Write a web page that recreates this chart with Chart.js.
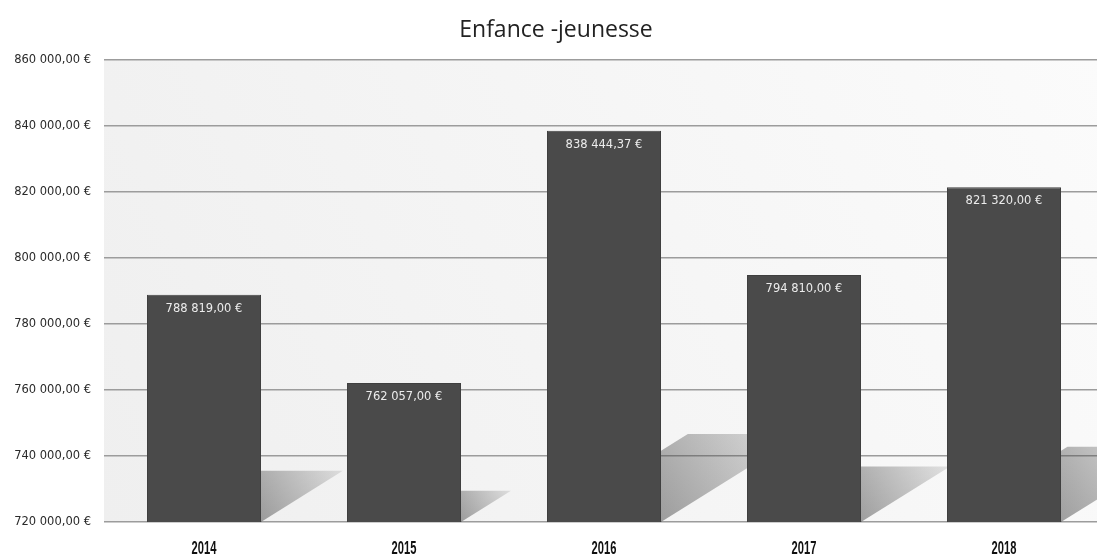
<!DOCTYPE html>
<html lang="fr">
<head>
<meta charset="utf-8">
<title>Enfance -jeunesse</title>
<script src="https://cdn.jsdelivr.net/npm/chart.js@4/dist/chart.umd.min.js"></script>
<style>
    html, body { margin: 0; padding: 0; background: #fff; overflow: hidden; }
    #wrap { position: relative; width: 1118px; height: 559px; }
</style>
</head>
<body>
<div id="wrap"><canvas id="budget-chart"></canvas></div>
<script>
const annees = ['2014', '2015', '2016', '2017', '2018'];
const montants = [788819.00, 762057.00, 838444.37, 794810.00, 821320.00];
const axeMin = 720000;
const axeMax = 860000;
const axePas = 20000;

// Format "860 000,00 €"
const formatEuro = (v) => {
    const [ent, dec] = Number(v).toFixed(2).split('.');
    return ent.replace(/\B(?=(\d{3})+(?!\d))/g, ' ') + ',' + dec + ' €';
};

// Fond légèrement grisé de la zone de tracé
const fondPlugin = {
    id: 'fond',
    beforeDraw(chart) {
        const { ctx, chartArea: a } = chart;
        const g = ctx.createLinearGradient(a.left, a.bottom, a.right, a.top);
        g.addColorStop(0, '#efefef');
        g.addColorStop(1, '#fbfbfb');
        ctx.save();
        ctx.fillStyle = g;
        ctx.fillRect(a.left, a.top, a.right - a.left, a.bottom - a.top);
        ctx.restore();
    }
};

// Ombres portées derrière les barres
const ombrePlugin = {
    id: 'ombre',
    beforeDatasetsDraw(chart) {
        const { ctx, chartArea: a } = chart;
        const meta = chart.getDatasetMeta(0);
        const base = chart.scales.y.getPixelForValue(axeMin);
        ctx.save();
        ctx.beginPath();
        ctx.rect(a.left, a.top, a.right - a.left, a.bottom - a.top);
        ctx.clip();
        meta.data.forEach(bar => {
            const L = bar.x - bar.width / 2, R = bar.x + bar.width / 2;
            const dy = (base - bar.y) * 0.225;
            const dx = dy * 1.6;
            const g = ctx.createLinearGradient(R, base, R + dx, base - dy);
            g.addColorStop(0, 'rgba(70,70,70,0.5)');
            g.addColorStop(1, 'rgba(70,70,70,0.12)');
            ctx.fillStyle = g;
            ctx.beginPath();
            ctx.moveTo(L, base);
            ctx.lineTo(R, base);
            ctx.lineTo(R + dx, base - dy);
            ctx.lineTo(L + dx, base - dy);
            ctx.closePath();
            ctx.fill();
        });
        ctx.restore();
    }
};

// Étiquettes de valeur dans le haut des barres + années (police étroite)
const etiquettePlugin = {
    id: 'etiquettes',
    afterDatasetsDraw(chart) {
        const { ctx } = chart;
        const meta = chart.getDatasetMeta(0);
        ctx.save();
        ctx.font = '11.5px "DejaVu Sans", sans-serif';
        ctx.fillStyle = '#ececec';
        ctx.textAlign = 'center';
        ctx.textBaseline = 'middle';
        meta.data.forEach((bar, i) => {
            ctx.fillText(formatEuro(montants[i]), bar.x, bar.y + 14);
        });
        ctx.restore();
    },
    afterDraw(chart) {
        const { ctx } = chart;
        const xs = chart.scales.x;
        ctx.save();
        ctx.font = 'bold 18px "Liberation Sans", Arial, sans-serif';
        ctx.fillStyle = '#111';
        ctx.textAlign = 'center';
        ctx.textBaseline = 'middle';
        annees.forEach((an, i) => {
            const px = xs.getPixelForValue(i);
            ctx.save();
            ctx.translate(px, xs.top + 27);
            ctx.scale(0.62, 1);
            ctx.fillText(an, 0, 0);
            ctx.restore();
        });
        ctx.restore();
    }
};

new Chart(document.getElementById('budget-chart'), {
    type: 'bar',
    data: {
        labels: annees,
        datasets: [{
            data: montants,
            backgroundColor: '#4a4a4a',
            borderColor: '#3f3f3f',
            borderWidth: 1,
            categoryPercentage: 1.0,
            barPercentage: 0.57
        }]
    },
    options: {
        responsive: true,
        maintainAspectRatio: false,
        animation: false,
        layout: { padding: { left: 8, right: 14, top: 0, bottom: 0 } },
        plugins: {
            legend: { display: false },
            tooltip: { enabled: false },
            title: {
                display: true,
                text: 'Enfance -jeunesse',
                color: '#222',
                font: { family: '"Open Sans", sans-serif', size: 23, weight: 'normal' },
                padding: { top: 17, bottom: 15 }
            }
        },
        scales: {
            x: {
                afterFit(scale) { scale.height = 37; },
                grid: { display: false },
                border: { display: false },
                ticks: { display: false }
            },
            y: {
                min: axeMin,
                max: axeMax,
                afterFit(scale) { scale.width = 96; },
                border: { display: false },
                grid: { color: '#9c9c9c', lineWidth: 1.5, drawTicks: false },
                ticks: {
                    stepSize: axePas,
                    padding: 13,
                    color: '#2a2a2a',
                    font: { family: '"DejaVu Sans", sans-serif', size: 11.5 },
                    callback: (v) => formatEuro(v)
                }
            }
        }
    },
    plugins: [fondPlugin, ombrePlugin, etiquettePlugin]
});
</script>
</body>
</html>
